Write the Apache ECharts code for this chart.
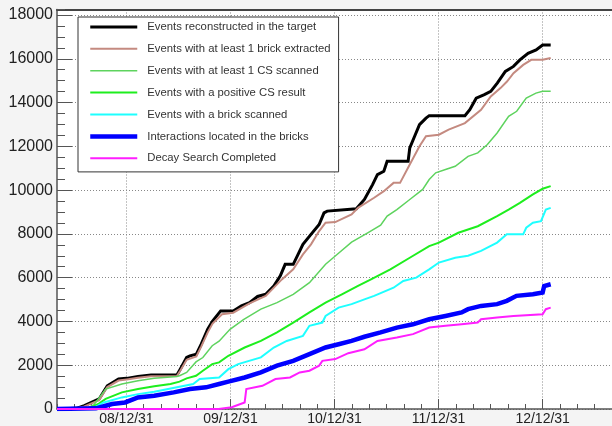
<!DOCTYPE html>
<html><head><meta charset="utf-8">
<script src="https://cdn.jsdelivr.net/npm/echarts@6/dist/echarts.min.js"></script>
<style>html,body{margin:0;padding:0;background:#f4f4f4}#c{width:612px;height:426px}</style>
</head><body><div id="c"></div><script>
// x values: months since 2008-01-01 (12 = 08/12/31)
const tickMonths = [12, 24, 36, 48, 60];
const tickLabels = ['08/12/31', '09/12/31', '10/12/31', '11/12/31', '12/12/31'];
const yTickValues = [0, 2000, 4000, 6000, 8000, 10000, 12000, 14000, 16000, 18000];
const seriesNames = [
  'Events reconstructed in the target',
  'Events with at least 1 brick extracted',
  'Events with at least 1 CS scanned',
  'Events with a positive CS result',
  'Events with a brick scanned',
  'Interactions located in the bricks',
  'Decay Search Completed'
];
const reconstructed = [[4,0],[6.25,30],[7.15,150],[8.86,460],[9.8,1060],[11.1,1370],[12.04,1400],[13.34,1490],[14.85,1550],[17.83,1550],[18.21,1820],[18.95,2360],[19.33,2430],[20.07,2500],[20.63,2960],[21.38,3650],[21.94,4020],[22.87,4480],[24.32,4480],[25.27,4710],[26.2,4860],[27.13,5140],[28.07,5240],[29.0,5620],[29.75,6080],[30.31,6610],[31.24,6610],[31.8,7060],[32.36,7520],[33.29,7980],[34.23,8430],[34.79,8960],[35.16,9040],[38.52,9150],[39.45,9570],[40.39,10250],[40.95,10710],[41.69,10860],[42.07,11320],[44.49,11320],[44.68,11930],[45.24,12460],[45.8,12990],[46.55,13290],[46.92,13400],[51.04,13400],[51.6,13670],[52.34,14200],[53.28,14360],[54.02,14510],[54.77,14890],[55.7,15420],[56.64,15650],[57.38,15950],[58.32,16250],[59.25,16400],[60.0,16630],[60.93,16630]];
const brickExtracted = [[4,0],[6.25,20],[7.15,120],[8.86,400],[9.8,1000],[11.1,1300],[12.04,1350],[13.34,1430],[14.85,1500],[17.83,1510],[18.21,1750],[18.95,2250],[20.07,2400],[20.63,2850],[21.38,3500],[21.94,3900],[23.03,4330],[24.32,4400],[26.2,4830],[28.07,5170],[29.93,5920],[31.24,6380],[32.36,7060],[33.29,7520],[34.23,8130],[34.97,8510],[36.09,8540],[37.97,8890],[38.71,9190],[40.57,9650],[41.69,9950],[42.81,10330],[43.56,10330],[44.68,11170],[45.8,12000],[46.55,12460],[48.04,12530],[49.16,12760],[51.04,13060],[52.9,13670],[54.02,14280],[55.14,14660],[55.89,14960],[56.64,15340],[57.76,15720],[58.69,15950],[60.0,15950],[60.93,16030]];
const csScanned = [[4,0],[7.38,30],[8.27,200],[9.61,910],[11.48,1140],[13.34,1290],[15.22,1400],[17.83,1490],[18.13,1520],[18.95,1670],[20.03,2150],[20.82,2350],[21.9,2890],[22.69,3100],[23.95,3640],[25.5,4080],[27.51,4560],[29.37,4860],[31.24,5240],[33.11,5770],[34.97,6610],[36.09,6990],[37.97,7620],[39.83,8050],[41.32,8400],[42.07,8810],[43.19,9110],[44.68,9570],[46.17,10030],[46.92,10480],[47.67,10790],[48.8,10940],[49.92,11090],[51.4,11540],[52.52,11700],[53.63,12080],[54.75,12610],[56.08,13370],[57.01,13600],[58.11,14200],[59.23,14430],[60.0,14510],[60.93,14520]];
const csPositive = [[4,0],[7.71,30],[8.83,250],[9.61,460],[11.48,760],[13.34,910],[15.22,1040],[17.09,1140],[18.13,1250],[18.95,1400],[20.03,1520],[20.82,1750],[21.9,2050],[22.69,2130],[23.76,2430],[25.64,2810],[27.51,3110],[29.37,3500],[31.24,3950],[33.11,4410],[34.97,4860],[36.85,5240],[38.71,5620],[40.21,5920],[42.44,6380],[44.68,6910],[46.92,7440],[48.04,7600],[50.28,8050],[52.52,8350],[54.75,8810],[56.08,9110],[57.38,9420],[58.88,9800],[60.0,10060],[60.93,10180]];
const brickScanned = [[4,0],[8.16,30],[9.39,300],[11.48,530],[13.34,680],[15.22,790],[17.83,990],[19.7,1140],[20.45,1370],[22.69,1440],[23.76,1820],[24.89,2050],[27.51,2360],[29.0,2810],[30.49,3110],[32.36,3340],[33.11,3800],[34.6,3950],[34.97,4250],[36.47,4630],[37.97,4790],[39.45,5010],[40.57,5170],[42.81,5540],[43.93,5850],[45.43,6000],[46.92,6380],[48.04,6690],[49.92,6910],[51.4,7000],[52.9,7220],[54.75,7600],[55.87,7980],[57.76,7980],[58.11,8280],[58.88,8510],[59.81,8580],[60.37,9110],[60.93,9190]];
const located = [[4,0],[8.49,30],[9.61,150],[10.36,230],[11.85,300],[13.34,530],[15.22,610],[17.46,760],[19.33,910],[21.19,990],[22.69,1140],[23.76,1250],[25.64,1440],[27.51,1670],[29.37,1980],[31.24,2200],[33.11,2510],[34.97,2810],[36.47,2960],[37.97,3110],[39.45,3300],[41.32,3500],[43.19,3720],[45.05,3870],[46.92,4100],[48.8,4250],[50.66,4410],[51.4,4560],[52.9,4710],[54.75,4790],[55.87,4940],[56.99,5170],[58.88,5240],[60.0,5320],[60.18,5620],[60.93,5700]];
const decaySearch = [[4,0],[22.64,0],[24.15,80],[25.64,300],[25.83,910],[27.69,1060],[29.19,1370],[30.87,1440],[31.99,1670],[33.11,1750],[34.23,1980],[34.6,2200],[36.09,2280],[37.59,2550],[39.45,2730],[40.95,3110],[43.19,3270],[45.05,3420],[46.92,3720],[48.8,3800],[50.66,3870],[52.52,3950],[52.9,4100],[54.75,4180],[56.64,4250],[60.0,4330],[60.37,4560],[60.93,4630]];

const seriesData = [reconstructed, brickExtracted, csScanned, csPositive, brickScanned, located, decaySearch];
const seriesColors = ['#000000', '#c48a80', '#5ed35e', '#1eee1e', '#1effff', '#0000ff', '#ff1eff'];
const seriesWidths = [3, 2, 1.5, 2, 2, 4.5, 2];
const FONT = '"Liberation Sans", Arial, Helvetica, sans-serif';
const AX = '#555';

const chart = echarts.init(document.getElementById('c'));
chart.setOption({
  backgroundColor: '#f4f4f4',
  animation: false,
  grid: { left: 57, top: 9.5, right: -16.2, bottom: 16, show: true, backgroundColor: '#ffffff', borderWidth: 0 },
  legend: {
    orient: 'vertical', left: 78, top: 17,
    padding: [4.3, 8, 8, 10],
    itemWidth: 47, itemHeight: 14, itemGap: 10.7,
    backgroundColor: '#ffffff', borderColor: '#333', borderWidth: 1, borderRadius: 0,
    textStyle: { fontSize: 11.3, color: '#333', fontFamily: FONT, padding: [0, 0, 0, 5] },
    lineStyle: { width: 'inherit' },
    itemStyle: { opacity: 0 },
    data: seriesNames
  },
  xAxis: [
    { type: 'value', min: 4, max: 68, position: 'bottom',
      axisLine: { onZero: false, lineStyle: { color: AX, width: 1.5 } },
      axisTick: { inside: true, length: 10, customValues: tickMonths, lineStyle: { color: AX } },
      axisLabel: { customValues: tickMonths, formatter: v => tickLabels[tickMonths.indexOf(v)], fontSize: 14, color: '#222', margin: 3, fontFamily: FONT },
      splitLine: { show: true, lineStyle: { type: [1, 2], color: '#888' } } },
    { type: 'value', min: 4, max: 68, interval: 2, position: 'bottom',
      axisLine: { show: false, onZero: false }, axisTick: { inside: true, length: 5, lineStyle: { color: AX } },
      axisLabel: { show: false }, splitLine: { show: false } },
    { type: 'value', min: 4, max: 68, position: 'top',
      axisLine: { show: true, onZero: false, lineStyle: { color: '#444', width: 2 } },
      axisTick: { show: false }, axisLabel: { show: false }, splitLine: { show: false } }
  ],
  yAxis: [
    { type: 'value', min: 0, max: 18250, position: 'left',
      axisLine: { show: true, onZero: false, lineStyle: { color: AX, width: 1.5 } },
      axisTick: { show: true, inside: true, length: 15, customValues: yTickValues, lineStyle: { color: AX } },
      axisLabel: { customValues: yTickValues, formatter: v => String(v), fontSize: 16, color: '#222', margin: 4, fontFamily: FONT },
      splitLine: { show: true, lineStyle: { type: [1, 2], color: '#888' } } },
    { type: 'value', min: 0, max: 18250, interval: 500, position: 'left',
      axisLine: { show: false, onZero: false }, axisTick: { show: true, inside: true, length: 8, lineStyle: { color: AX } },
      axisLabel: { show: false }, splitLine: { show: false } }
  ],
  series: seriesNames.map((name, i) => ({
    name, type: 'line', xAxisIndex: 0, yAxisIndex: 0,
    data: seriesData[i], symbol: 'none', showSymbol: false,
    lineStyle: { color: seriesColors[i], width: seriesWidths[i], join: 'miter' },
    itemStyle: { color: seriesColors[i] },
    emphasis: { disabled: true }
  }))
});
</script></body></html>
